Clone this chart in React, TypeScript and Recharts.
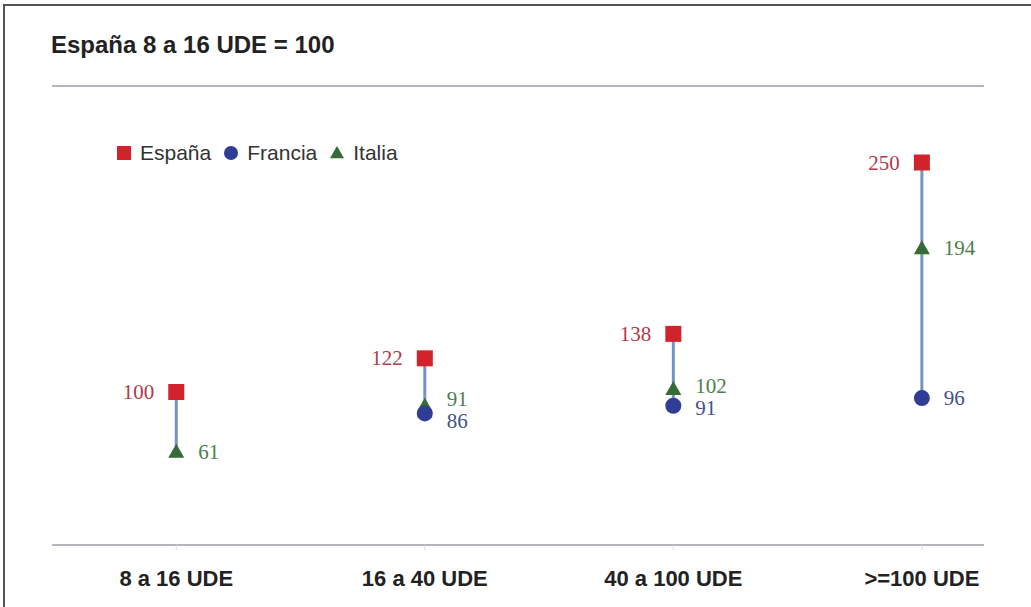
import { ComposedChart, Scatter, XAxis, YAxis, ReferenceLine, Legend } from "recharts"

const categories = ["8 a 16 UDE", "16 a 40 UDE", "40 a 100 UDE", ">=100 UDE"]
const espana: (number | null)[] = [100, 122, 138, 250]
const francia: (number | null)[] = [null, 86, 91, 96]
const italia: (number | null)[] = [61, 91, 102, 194]
const yDomain = [0, 300]

const seriesNames = ["España", "Francia", "Italia"]
const seriesKeys = ["espana", "francia", "italia"]
const seriesColors = ["#d2222c", "#2f3e94", "#356b35"]
const labelColors = ["#b33a4a", "#45508f", "#4e7d4e"]

const PLOT_H = 459 // pixel height of the plot, used only to space labels

const rows = categories.map((cat, i) => {
  const vals = [espana[i], francia[i], italia[i]].filter((v) => v != null) as number[]
  return {
    idx: i,
    cat,
    espana: espana[i],
    francia: francia[i],
    italia: italia[i],
    low: Math.min(...vals),
    high: Math.max(...vals),
  }
})

function Marker({ kind, cx, cy, color, s = 8 }: { kind: number; cx: number; cy: number; color: string; s?: number }) {
  if (kind === 0) return <rect x={cx - s} y={cy - s} width={s * 2} height={s * 2} fill={color} />
  if (kind === 1) return <circle cx={cx} cy={cy} r={s} fill={color} />
  return <polygon points={`${cx},${cy - s} ${cx + s},${cy + s * 0.75} ${cx - s},${cy + s * 0.75}`} fill={color} />
}

const makeShape = (k: number) => (props: any) => {
  const { cx, cy, payload } = props
  const value = payload[seriesKeys[k]]
  let dy = 0
  // push Francia / Italia labels apart when they would overlap
  if (k > 0 && payload.francia != null && payload.italia != null) {
    const pix = (Math.abs(payload.francia - payload.italia) * PLOT_H) / (yDomain[1] - yDomain[0])
    const extra = Math.max(0, 22 - pix) / 2
    const up = payload.italia >= payload.francia ? "italia" : "francia"
    dy = seriesKeys[k] === up ? -extra : extra
  }
  const left = k === 0
  return (
    <g>
      <Marker kind={k} cx={cx} cy={cy} color={seriesColors[k]} />
      <text
        x={left ? cx - 22 : cx + 22}
        y={cy + dy}
        textAnchor={left ? "end" : "start"}
        dominantBaseline="central"
        fill={labelColors[k]}
        fontFamily="Liberation Serif"
        fontSize={21}
      >
        {value}
      </text>
    </g>
  )
}

const renderLegend = () => (
  <div style={{ display: "flex", alignItems: "center", fontFamily: "Liberation Sans, Arial", fontSize: 21, color: "#333" }}>
    {seriesNames.map((name, k) => (
      <div key={name} style={{ display: "flex", alignItems: "center", marginRight: 12 }}>
        <svg width={16} height={16} style={{ marginRight: 8 }}>
          <Marker kind={k} cx={8} cy={8} color={seriesColors[k]} s={7} />
        </svg>
        <span>{name}</span>
      </div>
    ))}
  </div>
)

export default function App() {
  return (
    <div style={{ position: "absolute", left: 0, top: 0, width: 1031, height: 607, background: "#fff", overflow: "hidden" }}>
      <div
        style={{
          position: "absolute",
          left: 3,
          top: 4,
          right: 0,
          bottom: 0,
          borderLeft: "2px solid #555",
          borderTop: "2px solid #555",
        }}
      />
      <div
        style={{
          position: "absolute",
          left: 51,
          top: 33,
          fontFamily: "Liberation Sans, Arial",
          fontWeight: "bold",
          fontSize: 24,
          lineHeight: "24px",
          color: "#222",
        }}
      >
        España 8 a 16 UDE = 100
      </div>
      <ComposedChart width={1031} height={607} data={rows} margin={{ top: 86, right: 47, bottom: 22, left: 52 }}>
        <XAxis
          type="number"
          dataKey="idx"
          domain={[-0.5, 3.25]}
          ticks={[0, 1, 2, 3]}
          tickFormatter={(v: number) => categories[v]}
          height={40}
          axisLine={{ stroke: "#b5b5be", strokeWidth: 2 }}
          tickLine={{ stroke: "#ddd" }}
          tickSize={5}
          tickMargin={20}
          tick={{ fill: "#222", fontSize: 22, fontWeight: "bold", fontFamily: "Liberation Sans, Arial" }}
        />
        <YAxis type="number" domain={yDomain} hide width={0} />
        <ReferenceLine y={yDomain[1]} stroke="#b5b5be" strokeWidth={2} />
        {rows.map((r) => (
          <ReferenceLine
            key={r.cat}
            segment={[
              { x: r.idx, y: r.low },
              { x: r.idx, y: r.high },
            ]}
            stroke="#7393c6"
            strokeWidth={3}
          />
        ))}
        <Scatter
          name="Italia"
          data={rows.filter((r) => r.italia != null)}
          dataKey="italia"
          shape={makeShape(2)}
          isAnimationActive={false}
        />
        <Scatter
          name="Francia"
          data={rows.filter((r) => r.francia != null)}
          dataKey="francia"
          shape={makeShape(1)}
          isAnimationActive={false}
        />
        <Scatter
          name="España"
          data={rows.filter((r) => r.espana != null)}
          dataKey="espana"
          shape={makeShape(0)}
          isAnimationActive={false}
        />
        <Legend
          content={renderLegend}
          layout="horizontal"
          verticalAlign="middle"
          align="center"
          wrapperStyle={{ left: 116, top: 141, width: 500 }}
        />
      </ComposedChart>
    </div>
  )
}
